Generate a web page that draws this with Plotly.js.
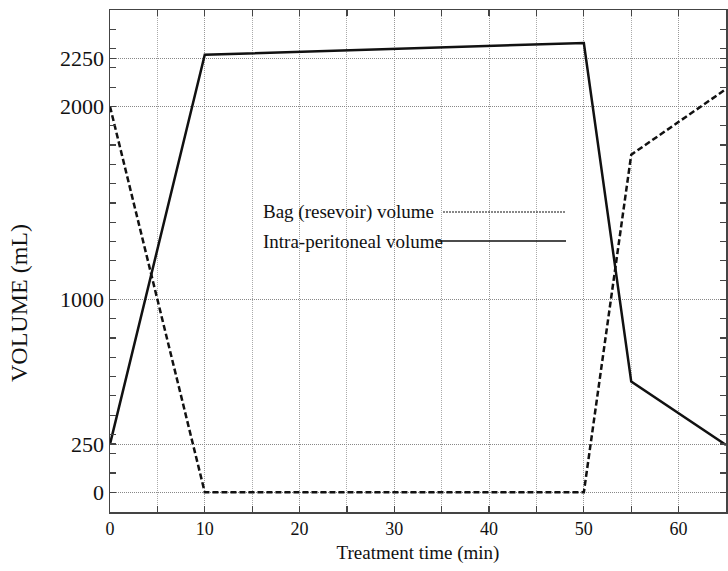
<!DOCTYPE html>
<html>
<head>
<meta charset="utf-8">
<script src="https://cdn.plot.ly/plotly-3.0.1.min.js"></script>
<style>html,body{margin:0;padding:0;background:#fff;}#chart{width:728px;height:571px;}</style>
</head>
<body>
<div id="chart"></div>
<script>
var time = [0, 10, 50, 55, 65];
var bagVolume = [2000, 0, 0, 1750, 2090];
var intraVolume = [250, 2268, 2329, 574, 245];
var seriesNames = ["Bag (resevoir) volume", "Intra-peritoneal volume"];
var yTitle = "VOLUME (mL)";
var xTitle = "Treatment time (min)";
var yTickVals = [0, 250, 1000, 2000, 2250];
var xTickVals = [0, 10, 20, 30, 40, 50, 60];

var yMinor = [];
for (var v = 0; v <= 2400; v += 100) yMinor.push(v);

var font = "'Liberation Serif', 'Times New Roman', serif";
var traces = [
  {x: time, y: bagVolume, name: seriesNames[0], mode: "lines", line: {color: "#111", width: 2.5, dash: "6px,3px"}},
  {x: time, y: intraVolume, name: seriesNames[1], mode: "lines", line: {color: "#111", width: 2.5}}
];
var layout = {
  width: 728, height: 571,
  margin: {l: 110, r: 2, t: 10, b: 59},
  paper_bgcolor: "#fff", plot_bgcolor: "#fff",
  showlegend: false,
  font: {family: font, color: "#111", size: 21},
  xaxis: {
    range: [0, 65], tickmode: "array", tickvals: xTickVals,
    ticks: "inside", ticklen: 6, tickcolor: "#444", tickwidth: 1.2,
    showline: true, linecolor: "#444", linewidth: 1.5, mirror: "ticks",
    showgrid: true, gridcolor: "#999", griddash: "1px,1px", gridwidth: 1,
    zeroline: false,
    minor: {tickmode: "linear", tick0: 5, dtick: 10, ticks: "inside", ticklen: 6, tickcolor: "#444", showgrid: true, gridcolor: "#aaa", griddash: "1px,1px"},
    tickfont: {family: font, size: 18},
    title: {text: xTitle, font: {family: font, size: 19}, standoff: 7}
  },
  yaxis: {
    range: [-102, 2500], tickmode: "array", tickvals: yTickVals,
    ticks: "inside", ticklen: 6, tickcolor: "#444", tickwidth: 1.2,
    showline: true, linecolor: "#444", linewidth: 1.5, mirror: "ticks",
    showgrid: true, gridcolor: "#888", griddash: "1px,1px", gridwidth: 1,
    zeroline: false,
    minor: {tickmode: "array", tickvals: yMinor, ticks: "inside", ticklen: 6, tickcolor: "#444", showgrid: false},
    tickfont: {family: font, size: 22},
    title: {text: ""}
  },
  annotations: [
    {xref: "paper", yref: "paper", x: (19 - 110) / 616, y: (512 - 303) / 502, xanchor: "center", yanchor: "middle", textangle: -90, text: yTitle, showarrow: false, font: {family: font, size: 24, color: "#111"}},
    {xref: "paper", yref: "paper", x: (261 - 110) / 616, y: (512 - 212) / 502, xanchor: "left", yanchor: "middle", text: seriesNames[0], showarrow: false, font: {family: font, size: 19, color: "#111"}},
    {xref: "paper", yref: "paper", x: (261 - 110) / 616, y: (512 - 241) / 502, xanchor: "left", yanchor: "middle", text: seriesNames[1], showarrow: false, font: {family: font, size: 19, color: "#111"}}
  ],
  shapes: [
    {type: "line", xref: "paper", yref: "paper", x0: (443 - 110) / 616, x1: (566 - 110) / 616, y0: (512 - 212) / 502, y1: (512 - 212) / 502, line: {color: "#111", width: 1.2, dash: "2px,1px"}},
    {type: "line", xref: "paper", yref: "paper", x0: (438 - 110) / 616, x1: (566 - 110) / 616, y0: (512 - 241) / 502, y1: (512 - 241) / 502, line: {color: "#111", width: 1.5}}
  ]
};
Plotly.newPlot("chart", traces, layout, {displayModeBar: false, staticPlot: true});
</script>
</body>
</html>
